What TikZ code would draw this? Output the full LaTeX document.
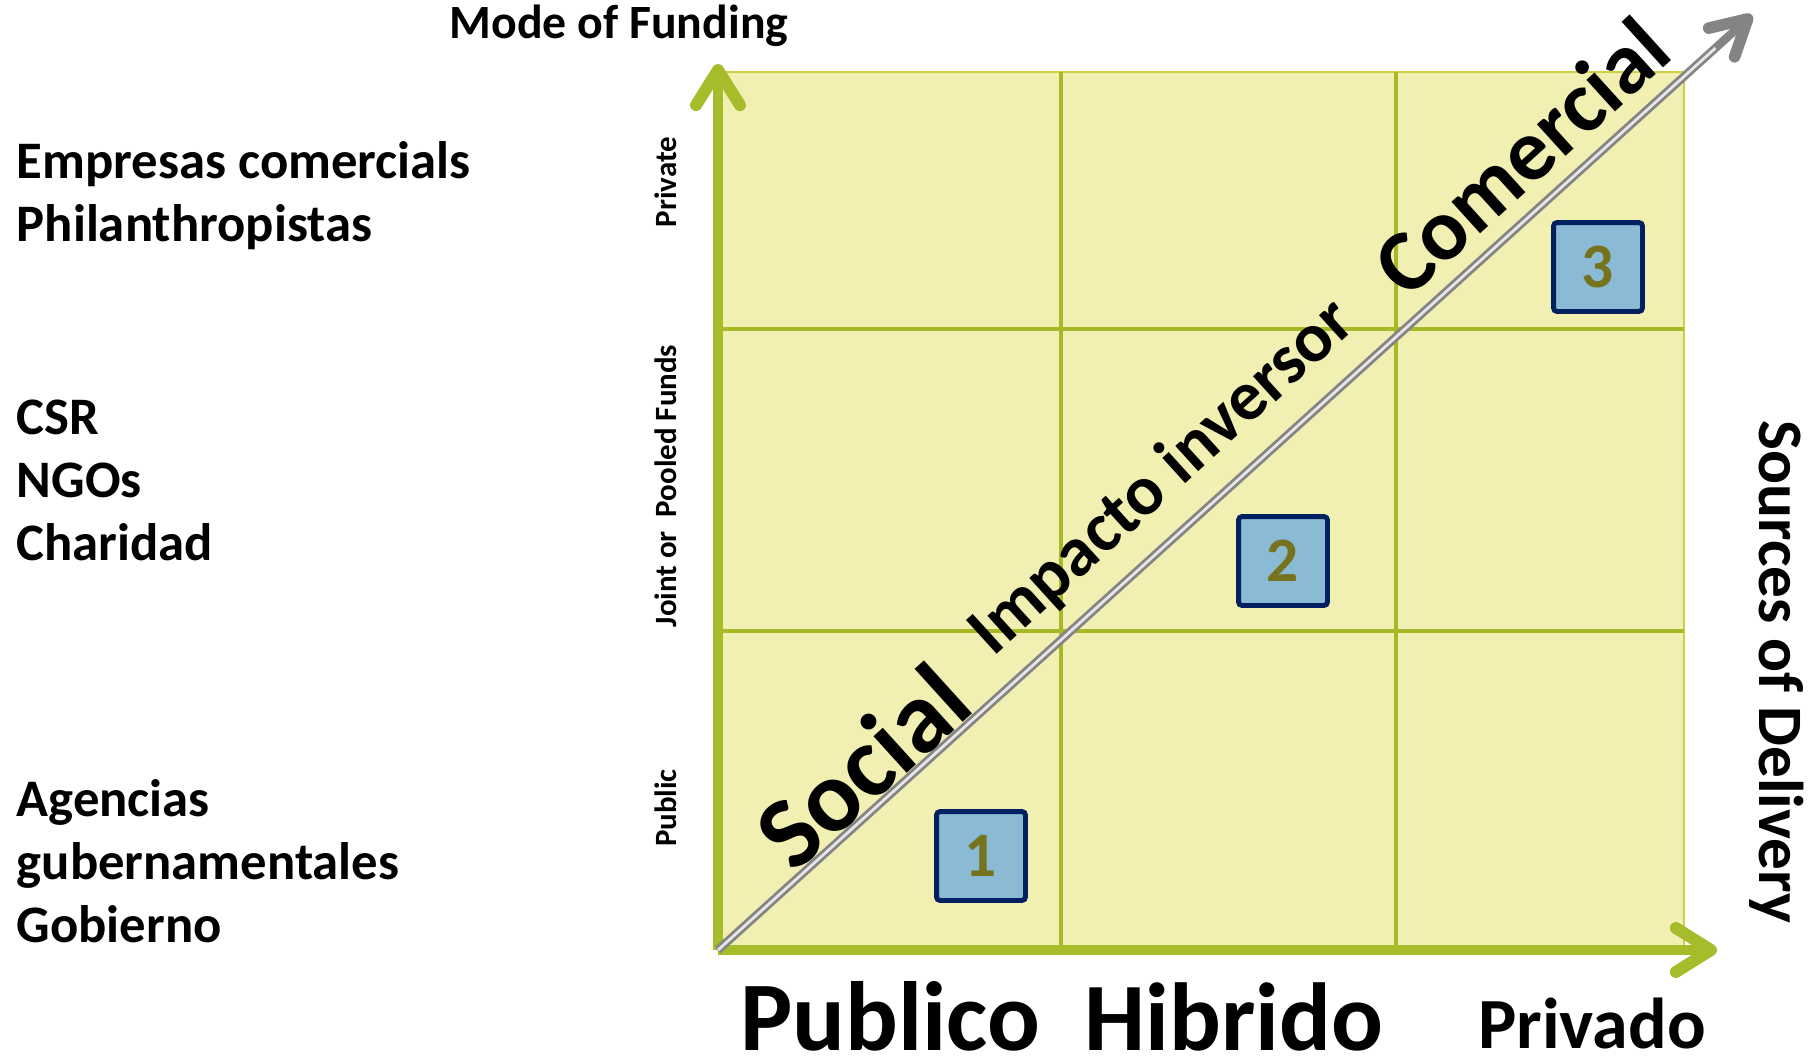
\documentclass[tikz,border=0pt]{standalone}
\usepackage{fontspec}
\setmainfont{Carlito}
\usepackage{xcolor}
\usepackage{tikz}
\usetikzlibrary{arrows.meta,positioning,calc}

\definecolor{cellyellow}{RGB}{241,239,178}
\definecolor{edgeyellow}{RGB}{208,206,72}
\definecolor{gridgreen}{RGB}{168,185,40}
\definecolor{axisgreen}{RGB}{166,188,42}
\definecolor{boxblue}{RGB}{139,186,213}
\definecolor{boxnavy}{RGB}{0,32,96}
\definecolor{digitolive}{RGB}{118,115,30}
\definecolor{diaggray}{RGB}{132,132,132}

\begin{document}
\begin{tikzpicture}[x=0.1mm, y=-0.1mm,
    every node/.style={inner sep=0pt, font=\bfseries},
    fsize/.style={font=\fontsize{#1pt}{#1pt}\selectfont\bfseries},
    gridline/.style={draw=gridgreen, line width=1.1pt},
    axisline/.style={draw=axisgreen, line width=2.6pt,
        -{Straight Barb[length=10pt, width=12.5pt, line width=3.4pt, round]}},
    diagline/.style={draw=diaggray, line width=2.4pt,
        -{Straight Barb[length=10pt, width=11pt, line width=3.3pt, round]}},
    diagcore/.style={draw=white!80!diaggray, line width=0.8pt},
    numbox/.style={draw=boxnavy, line width=1.4pt, fill=boxblue, minimum size=25.3pt,
        rounded corners=1pt, text=digitolive, fsize=18}]
    \useasboundingbox (0,0) rectangle (1810,1063);

    % Draw grid
    \fill[cellyellow] (718,72) rectangle (1684,950);
    \draw[edgeyellow, line width=0.7pt] (718,72) rectangle (1684,950);
    \foreach \gx in {1061,1396} {
        \draw[gridline] (\gx,72) -- (\gx,950);
    }
    \foreach \gy in {329,631} {
        \draw[gridline] (718,\gy) -- (1684,\gy);
    }

    % Axes
    \coordinate (origin) at (718,950);
    \coordinate (ytip) at (718,64);
    \coordinate (xtip) at (1717,950);
    \coordinate (dtip) at (1752,15);
    \draw[axisline] (origin) -- (ytip);
    \draw[axisline] (origin) -- (xtip);
    \draw[diagline] (origin) -- (dtip);
    \draw[diagcore, shorten >=14pt] (origin) -- (dtip);

    % Funding sources
    \foreach \txt/\yy [count=\k] in {Empresas comercials/178, Philanthropistas/241,
        CSR/434, NGOs/497, Charidad/560,
        Agencias/816, gubernamentales/879, Gobierno/942} {
        \node[fsize=15, anchor=base west] (fund\k) at (16,\yy) {\txt};
    }

    % Axis labels
    \node[fsize=13.6, anchor=base] (mode) at (619,38) {Mode of Funding};
    \node[fsize=8.8, rotate=90] (private) at (666,182) {Private};
    \node[fsize=8.8, rotate=90] (joint) at (666,486) {Joint or\ \ Pooled Funds};
    \node[fsize=8.8, rotate=90] (public) at (666,808) {Public};
    \node[fsize=18, rotate=-90] (sources) at (1777,672) {Sources of Delivery};
    \node[fsize=28, anchor=base] (publico) at (890,1050) {Publico};
    \node[fsize=27.5, anchor=base] (hibrido) at (1234,1050) {Hibrido};
    \node[fsize=20.5, anchor=base] (privado) at (1592,1048) {Privado};

    % Diagonal labels
    \node[fsize=29, rotate=42.2] (social) at (862,766) {Social};
    \node[fsize=20, rotate=42.2] (impacto) at (1163,478) {Impacto inversor};
    \node[fsize=25, rotate=42.2] (comercial) at (1521,156) {Comercial};

    % Numbered boxes
    \foreach \n/\bx/\by in {1/981/856, 2/1283/561, 3/1598/267} {
        \node[numbox] (box\n) at (\bx,\by) {\n};
    }
\end{tikzpicture}
\end{document}
